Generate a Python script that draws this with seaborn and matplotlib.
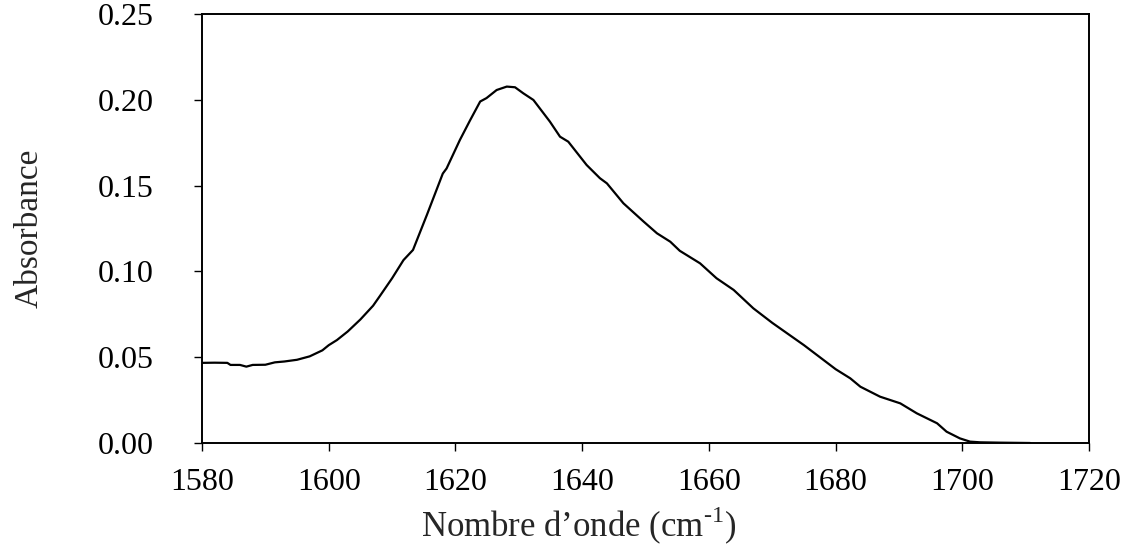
import numpy as np
import pandas as pd
import matplotlib
matplotlib.use("Agg")
import matplotlib.pyplot as plt
import seaborn as sns
from matplotlib.ticker import FormatStrFormatter

# Absorbance spectrum (amide I band)
wavenumber = [1580.0, 1582.0, 1584.0, 1584.5, 1586.0, 1587.0, 1588.0, 1590.0,
              1591.5, 1593.0, 1595.0, 1597.0, 1599.0, 1600.0, 1601.3, 1603.0,
              1605.0, 1607.0, 1608.1, 1610.0, 1611.8, 1613.3, 1615.5, 1618.0,
              1618.6, 1620.7, 1622.3, 1623.9, 1624.9, 1626.5, 1628.1, 1629.4,
              1630.7, 1632.3, 1634.9, 1636.5, 1637.8, 1640.7, 1642.8, 1643.9,
              1646.5, 1649.7, 1651.8, 1653.9, 1655.4, 1658.6, 1661.2, 1663.9,
              1667.0, 1670.0, 1675.0, 1680.0, 1682.3, 1683.9, 1687.0, 1690.2,
              1692.8, 1696.0, 1697.5, 1699.6, 1701.2, 1702.8, 1706.0, 1710.7]
absorbance = [0.0467, 0.0468, 0.0467, 0.0455, 0.0455, 0.0445, 0.0455, 0.0456,
              0.0470, 0.0475, 0.0485, 0.0505, 0.0540, 0.0570, 0.0600, 0.0650,
              0.0720, 0.0800, 0.0858, 0.0960, 0.1066, 0.1125, 0.1330, 0.1570,
              0.1600, 0.1766, 0.1880, 0.1990, 0.2010, 0.2057, 0.2077, 0.2073,
              0.2038, 0.1999, 0.1873, 0.1785, 0.1756, 0.1620, 0.1543, 0.1513,
              0.1397, 0.1290, 0.1222, 0.1173, 0.1120, 0.1047, 0.0960, 0.0892,
              0.0785, 0.0700, 0.0570, 0.0430, 0.0377, 0.0328, 0.0270, 0.0231,
              0.0173, 0.0115, 0.0066, 0.0027, 0.0008, 0.0004, 0.0002, 0.0000]

x_ticks = [1580, 1600, 1620, 1640, 1660, 1680, 1700, 1720]
y_ticks = [0.00, 0.05, 0.10, 0.15, 0.20, 0.25]

df = pd.DataFrame({"wavenumber": wavenumber, "absorbance": absorbance})

sns.set_style("ticks")
plt.rcParams["font.family"] = ["Liberation Serif", "DejaVu Serif"]
plt.rcParams["mathtext.fontset"] = "custom"
plt.rcParams["mathtext.rm"] = "Liberation Serif"

fig = plt.figure(figsize=(11.24, 5.51), dpi=100)
ax = fig.add_axes([0.1797, 0.196, 0.7893, 0.7786])

sns.lineplot(data=df, x="wavenumber", y="absorbance", ax=ax,
             color="black", linewidth=1.6)

ax.set_xlim(1580, 1720)
ax.set_ylim(0, 0.25)
ax.set_xticks(x_ticks)
ax.set_yticks(y_ticks)
ax.yaxis.set_major_formatter(FormatStrFormatter("%.2f"))

for side in ["top", "right", "bottom", "left"]:
    ax.spines[side].set_visible(True)
    ax.spines[side].set_color("black")
    ax.spines[side].set_linewidth(1.4)

ax.tick_params(axis="both", direction="out", length=6, width=1.0,
               labelsize=23, colors="black")
ax.tick_params(axis="x", pad=12)
ax.tick_params(axis="y", pad=29)

ax.set_xlabel(r"Nombre d’onde (cm$^{\text{-1}}$)", fontsize=25)
ax.xaxis.set_label_coords(0.425, -0.145)
ax.xaxis.label.set_va("top")
ax.set_ylabel("Absorbance", fontsize=24, labelpad=38)

fig.savefig("out.png", dpi=100)
